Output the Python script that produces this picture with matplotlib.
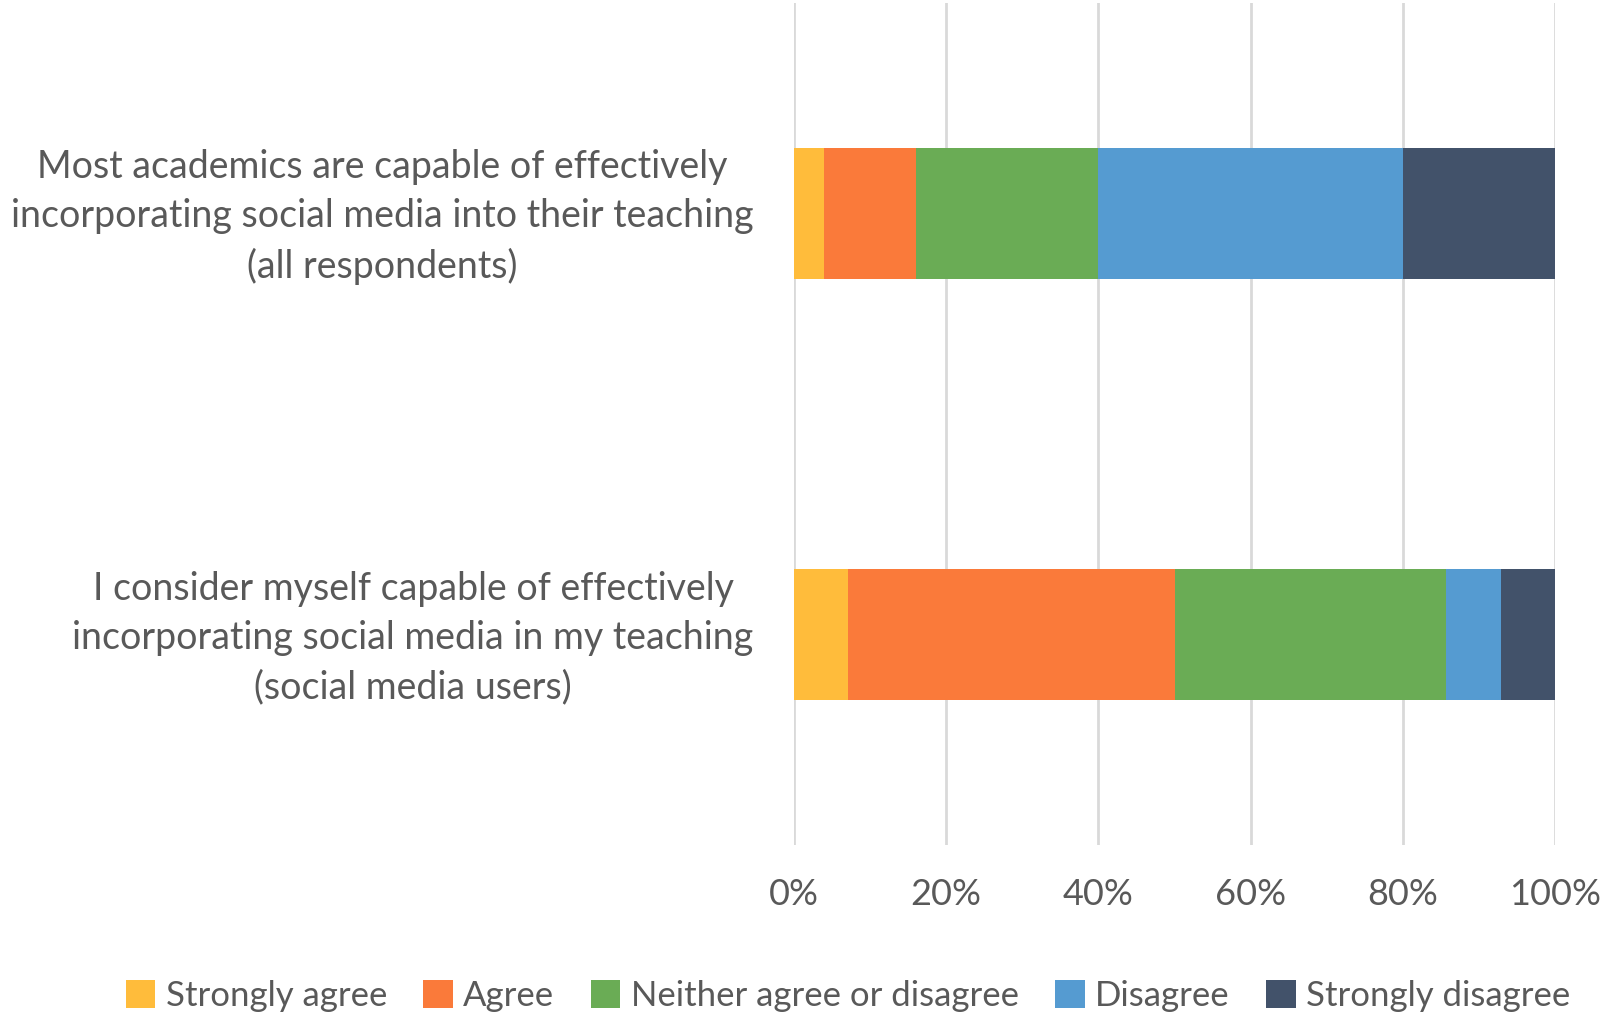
import matplotlib.pyplot as plt
import numpy as np

plt.rcParams["font.family"] = ["Lato", "DejaVu Sans"]

questions = [
    "Most academics are capable of effectively\nincorporating social media into their teaching\n(all respondents)",
    "I consider myself capable of effectively\nincorporating social media in my teaching\n(social media users)",
]
responses = ["Strongly agree", "Agree", "Neither agree or disagree", "Disagree", "Strongly disagree"]
# share of respondents (%) per response, one entry per question
strongly_agree = [4.0, 7.14]
agree = [12.0, 42.86]
neither = [24.0, 35.71]
disagree = [40.0, 7.14]
strongly_disagree = [20.0, 7.15]
colors = ["#FFBC3B", "#FA7A3A", "#6AAC55", "#559BD1", "#42526A"]

text_color = "#595959"

fig = plt.figure(figsize=(16.01, 10.16), dpi=100)
ax = fig.add_axes([794 / 1601, 1 - 845 / 1016, 761 / 1601, 842 / 1016])

y = np.arange(len(questions))
left = np.zeros(len(questions))
for name, vals, c in zip(responses,
                         [strongly_agree, agree, neither, disagree, strongly_disagree],
                         colors):
    ax.barh(y, vals, left=left, height=0.31, color=c, label=name, zorder=3)
    left += np.array(vals)

ax.set_xlim(0, 100)
ax.set_ylim(1.5, -0.5)
ax.set_xticks(np.arange(0, 101, 20))
ax.set_xticklabels([f"{v}%" for v in range(0, 101, 20)])
# ticks are hidden; sit the label blocks slightly above the bar centres
ax.set_yticks(y - 0.016)
ax.set_yticklabels(questions)
for lbl in ax.get_yticklabels():
    lbl.set_multialignment("center")
    lbl.set_linespacing(1.45)

ax.grid(axis="x", color="#D9D9D9", lw=2, zorder=0)
for s in ax.spines.values():
    s.set_visible(False)
ax.tick_params(axis="both", length=0, colors=text_color)
ax.tick_params(axis="x", labelsize=26, pad=24)
ax.tick_params(axis="y", labelsize=27, pad=29)

fig.legend(loc="center", bbox_to_anchor=(848 / 1601, 1 - 996 / 1016), ncol=5,
           frameon=False, fontsize=25, labelcolor=text_color,
           handlelength=0.85, handleheight=0.85, handletextpad=0.3, columnspacing=1.05)

fig.savefig("out.png", dpi=100)
